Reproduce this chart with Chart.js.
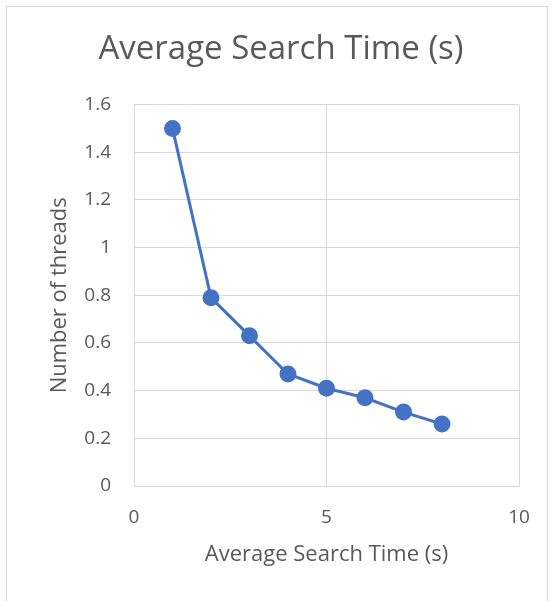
<!DOCTYPE html>
<html>
<head>
<meta charset="utf-8">
<title>Average Search Time (s)</title>
<script src="https://cdn.jsdelivr.net/npm/chart.js"></script>
<style>
  html, body { margin: 0; padding: 0; background: #fff; }
  #wrap { position: relative; width: 553px; height: 601px; }
  #frame { position: absolute; left: 6px; top: 6px; width: 542px; height: 610px; border: 1px solid #d9d9d9; box-sizing: border-box; }
  canvas { position: absolute; left: 0; top: 0; }
</style>
</head>
<body>
<div id="wrap">
  <div id="frame"></div>
  <canvas id="chartCanvas" width="553" height="601"></canvas>
</div>
<script>
// data
const xValues = [1, 2, 3, 4, 5, 6, 7, 8];
const yValues = [1.5, 0.79, 0.63, 0.47, 0.41, 0.37, 0.31, 0.26];

const FONT = "'Open Sans', 'Noto Sans', sans-serif";
const TEXT = '#595959';
const GRID = '#d9d9d9';
const BLUE = '#4472c4';

const points = xValues.map((x, i) => ({ x: x, y: yValues[i] }));

const ctx = document.getElementById('chartCanvas').getContext('2d');
new Chart(ctx, {
  type: 'scatter',
  data: {
    datasets: [{
      label: 'Average Search Time (s)',
      data: points,
      showLine: true,
      borderColor: BLUE,
      backgroundColor: BLUE,
      borderWidth: 3,
      pointRadius: 7,
      pointHoverRadius: 7
    }]
  },
  options: {
    responsive: false,
    animation: false,
    // left/right padding also puts the title centre where the reference has it
    layout: { padding: { left: 43, right: 34, top: 0, bottom: 0 } },
    plugins: {
      legend: { display: false },
      tooltip: { enabled: false },
      title: {
        display: true,
        text: 'Average Search Time (s)',
        color: TEXT,
        font: { family: FONT, size: 33, weight: 'normal', lineHeight: 1.2 },
        padding: { top: 30, bottom: 35 }
      }
    },
    scales: {
      x: {
        type: 'linear',
        min: 0,
        max: 10,
        afterFit: (scale) => { scale.height = 115; },
        ticks: { stepSize: 5, color: TEXT, padding: 20, font: { family: FONT, size: 19 } },
        grid: { color: GRID, drawTicks: false, lineWidth: 1 },
        border: { color: GRID, width: 1 },
        title: {
          display: true,
          text: 'Average Search Time (s)',
          color: TEXT,
          font: { family: FONT, size: 22 },
          padding: { top: 0, bottom: 33 }
        }
      },
      y: {
        type: 'linear',
        min: 0,
        max: 1.6,
        afterFit: (scale) => { scale.width = 91; },
        ticks: {
          stepSize: 0.2,
          color: TEXT,
          padding: 23,
          font: { family: FONT, size: 19 },
          callback: (v) => String(+v.toFixed(1))
        },
        grid: { color: GRID, drawTicks: false, lineWidth: 1 },
        border: { color: GRID, width: 1 },
        title: {
          display: true,
          text: 'Number of threads',
          color: TEXT,
          font: { family: FONT, size: 22 },
          padding: { top: 4, bottom: 0 }
        }
      }
    }
  }
});
</script>
</body>
</html>
